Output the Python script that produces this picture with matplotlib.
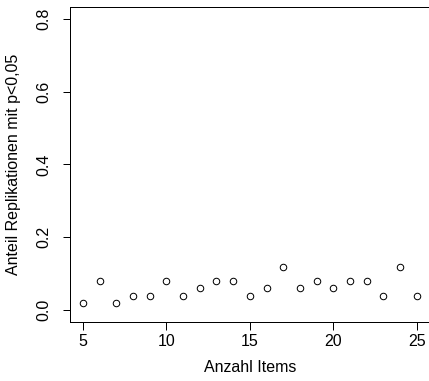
import matplotlib
matplotlib.use("Agg")
import matplotlib.pyplot as plt

# anteil signifikanter replikationen je anzahl items
items = [5, 6, 7, 8, 9, 10, 11, 12, 13, 14, 15, 16, 17, 18, 19, 20, 21, 22, 23, 24, 25]
anteil = [0.02, 0.08, 0.02, 0.04, 0.04, 0.08, 0.04, 0.06, 0.08, 0.08, 0.04,
          0.06, 0.12, 0.06, 0.08, 0.06, 0.08, 0.08, 0.04, 0.12, 0.04]

plt.rcParams['font.family'] = ['Liberation Sans', 'DejaVu Sans']
plt.rcParams['font.size'] = 16

fig = plt.figure(figsize=(429 / 72, 381 / 72), dpi=72)
ax = fig.add_axes([69.7 / 429, 59 / 381, 360.3 / 429, 315 / 381])

ax.plot(items, anteil, linestyle="none", marker="o", markersize=6.5,
        markerfacecolor="none", markeredgecolor="black", markeredgewidth=1.0)

ax.set_xlim(4.2, 25.8)
ax.set_ylim(-0.032, 0.832)
ax.set_xticks([5, 10, 15, 20, 25])
ax.set_yticks([0.0, 0.2, 0.4, 0.6, 0.8])
ax.set_yticklabels(["0.0", "0.2", "0.4", "0.6", "0.8"], rotation=90, va="center")

ax.tick_params(direction="out", length=7.5, width=1.0, color="black")
ax.tick_params(axis="x", pad=5)
ax.tick_params(axis="y", pad=11)
for s in ax.spines.values():
    s.set_linewidth(1.0)

ax.set_xlabel("Anzahl Items", labelpad=10)
ax.set_ylabel("Anteil Replikationen mit p<0,05", labelpad=15)

fig.savefig("out.png", dpi=72)
